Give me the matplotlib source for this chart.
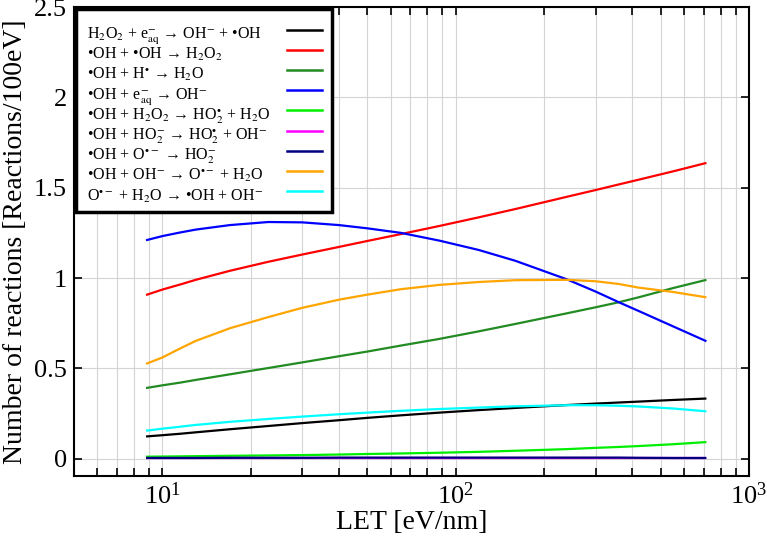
import numpy as np
import matplotlib
matplotlib.use("Agg")
import matplotlib.pyplot as plt
from matplotlib.ticker import LogLocator, NullFormatter
from matplotlib.patches import Rectangle
from matplotlib.lines import Line2D

plt.rcParams['font.family'] = ['Liberation Serif', 'DejaVu Serif']
plt.rcParams['mathtext.fontset'] = 'stix'

# LET values (eV/nm)
let = [8.8, 10, 11.5, 13, 17, 23, 30, 40, 50, 65, 88, 120, 160, 240, 300, 360, 420, 550, 716]

r1_h2o2_eaq = [0.123, 0.130, 0.138, 0.146, 0.163, 0.181, 0.197, 0.213, 0.226, 0.240, 0.255, 0.269, 0.281, 0.297, 0.305, 0.311, 0.316, 0.325, 0.333]
r2_oh_oh = [0.906, 0.936, 0.964, 0.990, 1.040, 1.090, 1.130, 1.172, 1.205, 1.243, 1.288, 1.336, 1.382, 1.450, 1.487, 1.518, 1.544, 1.590, 1.637]
r3_oh_h = [0.391, 0.406, 0.421, 0.436, 0.467, 0.502, 0.533, 0.567, 0.593, 0.626, 0.663, 0.705, 0.746, 0.805, 0.838, 0.866, 0.893, 0.944, 0.990]
r4_oh_eaq = [1.209, 1.232, 1.252, 1.268, 1.293, 1.310, 1.308, 1.293, 1.275, 1.250, 1.207, 1.155, 1.095, 0.992, 0.925, 0.866, 0.818, 0.733, 0.650]
r5_oh_h2o2 = [0.011, 0.012, 0.013, 0.014, 0.016, 0.018, 0.020, 0.023, 0.026, 0.029, 0.033, 0.038, 0.044, 0.053, 0.060, 0.065, 0.070, 0.080, 0.092]
r6_oh_ho2m = [0.002, 0.002, 0.002, 0.002, 0.002, 0.002, 0.002, 0.002, 0.002, 0.002, 0.002, 0.002, 0.002, 0.002, 0.002, 0.002, 0.002, 0.002, 0.002]
r7_oh_om = [0.004, 0.004, 0.004, 0.004, 0.005, 0.005, 0.005, 0.006, 0.006, 0.006, 0.006, 0.006, 0.006, 0.006, 0.006, 0.006, 0.005, 0.004, 0.004]
r8_oh_ohm = [0.525, 0.560, 0.610, 0.652, 0.722, 0.784, 0.835, 0.880, 0.908, 0.938, 0.962, 0.978, 0.988, 0.990, 0.982, 0.967, 0.947, 0.923, 0.893]
r9_om_h2o = [0.155, 0.166, 0.177, 0.187, 0.204, 0.220, 0.233, 0.246, 0.255, 0.265, 0.275, 0.283, 0.290, 0.296, 0.296, 0.293, 0.289, 0.278, 0.262]

labels = [
    r'H$_2$O$_2$ + e$_{\mathrm{aq}}^{-}$ → OH$^{-}$ + •OH',
    r'•OH + •OH → H$_2$O$_2$',
    r'•OH + H$^{\bullet}$ → H$_2$O',
    r'•OH + e$_{\mathrm{aq}}^{-}$ → OH$^{-}$',
    r'•OH + H$_2$O$_2$ → HO$_2^{\bullet}$ + H$_2$O',
    r'•OH + HO$_2^{-}$ → HO$_2^{\bullet}$ + OH$^{-}$',
    r'•OH + O$^{\bullet -}$ → HO$_2^{-}$',
    r'•OH + OH$^{-}$ → O$^{\bullet -}$ + H$_2$O',
    r'O$^{\bullet -}$ + H$_2$O → •OH + OH$^{-}$',
]
series = [r1_h2o2_eaq, r2_oh_oh, r3_oh_h, r4_oh_eaq, r5_oh_h2o2, r6_oh_ho2m, r7_oh_om, r8_oh_ohm, r9_om_h2o]
colors = ['#000000', '#ff0000', '#228b22', '#0000ff', '#00ee00', '#ff00ff', '#000080', '#ffa500', '#00ffff']

W, H = 767, 542
fig = plt.figure(figsize=(W / 100, H / 100), dpi=100)
ax = fig.add_axes([74 / W, 1 - 475.5 / H, (749 - 74) / W, (475.5 - 7) / H])

for y, c in zip(series, colors):
    ax.plot(let, y, color=c, lw=1.6, solid_capstyle='butt', solid_joinstyle='round')

ax.set_xscale('log')
ax.set_xlim(5, 1000)
ax.set_ylim(-0.093, 2.49)
ax.set_yticks([0, 0.5, 1, 1.5, 2, 2.5])
ax.set_yticklabels(['0', '0.5', '1', '1.5', '2', '2.5'])
ax.xaxis.set_major_locator(LogLocator(base=10, numticks=10))
ax.xaxis.set_minor_locator(LogLocator(base=10, subs=np.arange(2, 10), numticks=10))
ax.xaxis.set_minor_formatter(NullFormatter())

ax.grid(True, which='major', color='#d4d4d4', lw=0.8)
ax.grid(True, which='minor', axis='x', color='#d4d4d4', lw=0.8)
ax.set_axisbelow(True)

ax.tick_params(which='both', direction='in', top=True, right=True, length=6, width=1.2, labelsize=19, pad=5)
for s in ax.spines.values():
    s.set_linewidth(1.5)

ax.set_xlabel('LET [eV/nm]', fontsize=20, labelpad=1)
ax.set_ylabel('Number of reactions [Reactions/100eV]', fontsize=20, labelpad=4)

# manual legend (text left, line sample right)
def fx(px):
    return px / W

def fy(py):
    return 1 - py / H

box = Rectangle((fx(76), fy(212)), fx(332) - fx(76), fy(9) - fy(212), transform=fig.transFigure,
                facecolor='white', edgecolor='black', lw=2.5, zorder=10)
fig.add_artist(box)
row0, step = 32.5, 20.2
for i, (lab, c) in enumerate(zip(labels, colors)):
    yy = row0 + i * step
    fig.text(fx(87), fy(yy), lab, fontsize=11.5, ha='left', va='center_baseline', zorder=11)
    fig.add_artist(Line2D([fx(287), fx(322)], [fy(yy - 3), fy(yy - 3)], color=c, lw=1.8,
                          transform=fig.transFigure, zorder=11))

fig.savefig('out.png', dpi=100)
